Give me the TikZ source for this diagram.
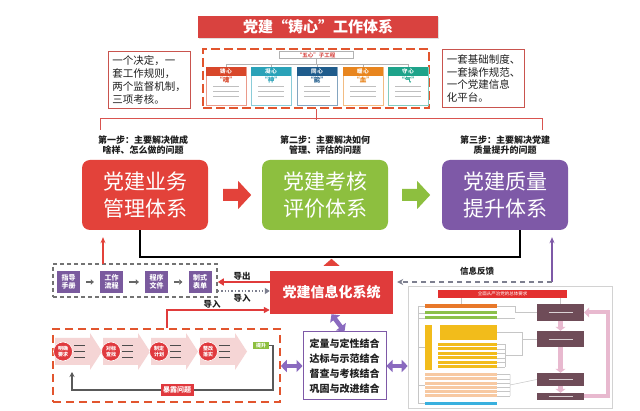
\documentclass[tikz,border=0pt]{standalone}
\usepackage{fontspec}
\setmainfont{Noto Sans CJK SC}
\usetikzlibrary{arrows.meta,calc,positioning,shadows}

\definecolor{titlered}{HTML}{D9423F}
\definecolor{bizred}{HTML}{E3423A}
\definecolor{evalgreen}{HTML}{8DBF3F}
\definecolor{qualpurple}{HTML}{7E59A7}
\definecolor{notered}{HTML}{C9544E}
\definecolor{rulered}{HTML}{D9534F}
\definecolor{dashorange}{HTML}{E2552E}
\definecolor{toolpurple}{HTML}{7A5A9E}
\definecolor{infored}{HTML}{E03B3B}
\definecolor{chevpink}{HTML}{F5D5D5}
\definecolor{circred}{HTML}{E0393E}
\definecolor{dblpurple}{HTML}{8A6ABF}
\definecolor{feedgray}{HTML}{7D7F8F}
\definecolor{stepbrown}{HTML}{6F4C58}
\definecolor{looppink}{HTML}{E8B9CF}
\definecolor{barred}{HTML}{E3302F}
\definecolor{barorange}{HTML}{E8782A}
\definecolor{bargreen}{HTML}{8CC04A}
\definecolor{baryellow}{HTML}{F2BC1B}
\definecolor{barpeach}{HTML}{F7C9A2}
\definecolor{barblue}{HTML}{39B0DE}
\definecolor{heartred}{HTML}{D8472A}
\definecolor{heartteal}{HTML}{2AA2B8}
\definecolor{heartnavy}{HTML}{1F5C8C}
\definecolor{heartorange}{HTML}{E8851E}
\definecolor{heartgreen}{HTML}{1EA38A}

% one card of the five sub-projects: x, name, colour, header, key word
\newcommand{\xincard}[5]{%
  \node[xincard, draw=#3!55] (#2) at (#1,86) {};
  \node[xinhead, fill=#3, anchor=north] at (#2.north) {#4};
  \node[font=\bfseries\fontsize{6.5}{7}\selectfont, text=#3] at ($(#2.north)+(0,13)$) {“#5”};
  \foreach \dy in {20,25,30}
    \draw[gray!50, line width=1.3pt] ($(#2.north)+(-13,\dy)$) -- ++(26,0);
}
% one pink stage arrow of the improvement loop: left x, name, circle text
\newcommand{\stagechev}[3]{%
  \fill[chevpink] (#1,338) -- ++(35,0) -- ++(0,-5) -- ++(12,18.5) -- ++(-12,18.5)
    -- ++(0,-5) -- ++(-35,0) -- cycle;
  \node[stagecirc] (#2) at (#1+8,351.5) {#3};
  \foreach \dy in {-6,0,6}
    \draw[black!70, line width=1.2pt] (#1+19,351.5+\dy) -- ++(11,0);
}

\begin{document}
\begin{tikzpicture}[x=1pt, y=-1pt, every node/.style={inner sep=0pt, text=black!88},
  mainbox/.style={rounded corners=8pt, text=white, align=center,
    font=\fontsize{21}{27}\selectfont, minimum width=126pt, minimum height=70pt},
  steplabel/.style={font=\bfseries\fontsize{9}{10.5}\selectfont, align=center},
  notebox/.style={draw=notered, line width=.9pt, align=left, minimum width=82pt,
    font=\fontsize{10.5}{12.7}\selectfont, inner ysep=5pt},
  xincard/.style={fill=white, line width=.6pt, minimum width=40pt, minimum height=38pt},
  xinhead/.style={text=white, font=\bfseries\fontsize{5.5}{6}\selectfont,
    minimum width=40pt, minimum height=9pt},
  toolbox/.style={fill=toolpurple, text=white, align=center,
    font=\bfseries\fontsize{7}{8.5}\selectfont, minimum width=23pt, minimum height=22pt},
  toolarrow/.style={-{Triangle[length=3pt,width=5.5pt]}, line width=2.2pt, black!60,
    shorten <=6pt, shorten >=6pt},
  stagecirc/.style={circle, fill=circred, draw=white, line width=.6pt, text=white,
    align=center, font=\bfseries\fontsize{5}{5.8}\selectfont, minimum size=19pt},
  dblarrow/.style={{Triangle[length=6pt,width=12pt]}-{Triangle[length=6pt,width=12pt]},
    line width=4.5pt, dblpurple},
  tag/.style={font=\bfseries\fontsize{8.5}{9}\selectfont}]

  \useasboundingbox (0,0) rectangle (640,411);
  \fill[white] (0,0) rectangle (640,411);

  % title and the five sub-projects
  \node[fill=titlered, text=white, font=\bfseries\fontsize{15}{16}\selectfont,
        minimum width=240pt, minimum height=22pt,
        drop shadow={opacity=.25, shadow xshift=1pt, shadow yshift=-1.5pt}] (title) at (318,27) {党建“铸心”工作体系};
  \node[draw=dashorange, dash pattern=on 9pt off 4pt, line width=1.8pt,
        minimum width=226pt, minimum height=59pt] (fivebox) at (316,78.5) {};
  \node[draw=gray!60, line width=.5pt, fill=white, text=rulered,
        font=\bfseries\fontsize{5.5}{6}\selectfont, minimum width=74pt, minimum height=7pt] (xinlabel) at (316,55) {“五心”子工程};
  \xincard{226}{card1}{heartred}{铸\,心}{魂}
  \xincard{271}{card2}{heartteal}{凝\,心}{神}
  \xincard{317}{card3}{heartnavy}{同\,心}{能}
  \xincard{363}{card4}{heartorange}{暖\,心}{血}
  \xincard{408}{card5}{heartgreen}{守\,心}{气}
  \draw[gray!60, line width=.6pt] (xinlabel.south) -- ++(0,5.5) coordinate (tj);
  \draw[gray!60, line width=.6pt] (card1.north |- tj) -- (card5.north |- tj);
  \foreach \c in {card1,card2,card3,card4,card5}
    \draw[gray!60, line width=.6pt] (\c.north |- tj) -- (\c.north);

  \node[notebox] (note1) at (149,80) {一个决定，一\\套工作规则，\\两个监督机制，\\三项考核。};
  \node[notebox] (note2) at (483.5,78.5) {一套基础制度、\\一套操作规范、\\一个党建信息\\化平台。};

  \coordinate (tickL) at (100,130);
  \coordinate (tickR) at (542,130);
  \draw[rulered, line width=1pt] (fivebox.south) -- ++(0,11);
  \draw[rulered, line width=1pt] (tickL) -- ++(0,-11) -| (tickR);

  % three steps
  \node[steplabel] (step1) at (143,145) {第一步：主要解决做成\\啥样、怎么做的问题};
  \node[steplabel] (step2) at (325,145) {第二步：主要解决如何\\管理、评估的问题};
  \node[steplabel] (step3) at (505,145) {第三步：主要解决党建\\质量提升的问题};

  \node[mainbox, fill=bizred] (biz) at (145,195) {党建业务\\管理体系};
  \node[mainbox, fill=evalgreen] (eval) at (325,195) {党建考核\\评价体系};
  \node[mainbox, fill=qualpurple] (qual) at (505,195) {党建质量\\提升体系};
  \fill[bizred] ($(biz.east)+(15,-6)$) -- ++(15,0) -- ++(0,-8) -- ++(13,14)
    -- ++(-13,14) -- ++(0,-8) -- ++(-15,0) -- cycle;
  \fill[evalgreen] ($(eval.east)+(14,-6)$) -- ++(15,0) -- ++(0,-8) -- ++(13,14)
    -- ++(-13,14) -- ++(0,-8) -- ++(-15,0) -- cycle;
  \draw[line width=1.4pt] ($(biz.south)+(-5,0)$) |- ($(qual.south)+(15,27)$) -- ($(qual.south)+(15,0)$);

  % information system and its links
  \node[fill=infored, text=white, font=\bfseries\fontsize{14}{15}\selectfont,
        minimum width=123pt, minimum height=43pt] (info) at (331.5,292.5) {党建信息化系统};
  \fill[bizred] ($(info.north)+(-8,-5)$) -- ++(16,0) -- ++(-8,-7) -- cycle;

  \node[draw=black!55, dash pattern=on 4pt off 3pt, line width=1.5pt,
        minimum width=164pt, minimum height=33pt] (flow) at (135,280.5) {};
  \node[toolbox] (t1) at (68.5,282) {指导\\手册};
  \node[toolbox] (t2) at (111.5,282) {工作\\流程};
  \node[toolbox] (t3) at (156.5,282) {程序\\文件};
  \node[toolbox] (t4) at (200,282) {制式\\表单};
  \foreach \a/\b in {t1/t2,t2/t3,t3/t4}
    \draw[toolarrow] (\a) -- (\b);

  \coordinate (upL) at (103,264);
  \draw[bizred, line width=1.2pt, -{Stealth[length=6pt,width=5pt]}] (upL) -- ($(biz.south -| upL)+(0,7)$);
  \draw[infored, line width=1.6pt, -{Triangle[length=6pt,width=7pt]}] (info.west |- 0,282) -- (flow.east |- 0,282);
  \draw[feedgray, line width=1.4pt, dotted, -{Triangle[length=5pt,width=6pt]}] (flow.east |- 0,291) -- (info.west |- 0,291);
  \node[tag] (export) at (242,276) {导出};
  \node[tag] (import1) at (242,298) {导入};

  \coordinate (fb) at (552,282);
  \draw[qualpurple, line width=1.2pt, -{Stealth[length=6pt,width=5pt]}] (fb) -- ($(qual.south -| fb)+(0,7)$);
  \draw[feedgray, line width=1.4pt, dash pattern=on 5pt off 4pt, -{Stealth[length=6pt,width=6pt]}, shorten >=4pt] (fb) -- (info.east |- fb);
  \node[tag] (feedback) at (477,271) {信息反馈};

  % improvement loop
  \node[draw=dashorange, dash pattern=on 8pt off 5pt, line width=1.6pt,
        minimum width=227pt, minimum height=73pt] (loop) at (166.5,365.5) {};
  \stagechev{55}{s1}{明确\\要求}
  \stagechev{103}{s2}{对标\\查找}
  \stagechev{151}{s3}{制定\\计划}
  \stagechev{200}{s4}{整改\\落实}
  \node[fill=evalgreen, text=white, font=\bfseries\fontsize{5}{5.5}\selectfont,
        minimum width=16pt, minimum height=7pt] (lift) at (261,345.5) {提升};
  \coordinate (retR) at (273,390);
  \coordinate (retL) at (72,372);
  \draw[black!65, line width=1.4pt, -{Stealth[length=5pt,width=5pt]}] (lift.east) -| (retR) -| (retL);
  \node[fill=circred, text=white, font=\bfseries\fontsize{7}{8}\selectfont,
        minimum width=33pt, minimum height=12pt] (expose) at (177,390) {暴露问题};
  \draw[infored, line width=1.4pt, -{Triangle[length=6pt,width=6pt]}] (loop.north -| 167,0) |- (info.west |- 0,310);
  \node[tag] (import2) at (212,304) {导入};

  \node[draw=qualpurple, line width=1pt, align=center, minimum width=83pt, minimum height=68pt,
        font=\bfseries\fontsize{10}{15}\selectfont] (combine) at (344.5,366) {定量与定性结合\\达标与示范结合\\督查与考核结合\\巩固与改进结合};

  % overall requirement chart
  \node[draw=gray!35, line width=.6pt, minimum width=204pt, minimum height=122pt] (panel) at (510,347) {};
  \node[fill=barred, text=white, font=\fontsize{4.5}{5}\selectfont,
        minimum width=129pt, minimum height=8pt] (goal) at (502.5,294) {全面从严治党的总体要求};
  \fill[barorange] (425,304) rectangle (497,308);
  \fill[bargreen] (425,311.5) rectangle (497,314.5);
  \fill[bargreen] (425,316.5) rectangle (497,319.5);
  \fill[baryellow] (425,325) rectangle (432,370);
  \fill[baryellow] (440,325) rectangle (497,340);
  \foreach \y in {343,347.5,352,356.5,361,365.5}
    \fill[baryellow] (438,\y) rectangle (497,\y+3);
  \foreach \y in {373,377.3,381.6,385.9,390.2,394.5}
    \fill[barpeach] (425,\y) rectangle (497,\y+3);
  \fill[barblue] (425,402) rectangle (497,405);

  \tikzset{stepnode/.style={fill=stepbrown, minimum width=47pt}}
  \node[stepnode, minimum height=17pt] (stepA) at (560.5,312.5) {};
  \node[stepnode, minimum height=16pt] (stepB) at (560.5,339) {};
  \node[stepnode, minimum height=13pt] (stepC) at (560.5,379.5) {};
  \node[stepnode, minimum height=7pt] (stepD) at (560.5,396.5) {};
  \foreach \n in {stepA,stepB,stepC,stepD}
    \draw[white!75!stepbrown, line width=.9pt] ($(\n.center)+(-12,0)$) -- ++(24,0);

  \draw[gray!45, line width=.5pt] (goal.south -| 461,0) -- (461,304);
  \draw[gray!45, line width=.5pt] (goal.south -| stepA) -- (stepA.north);
  \draw[gray!45, line width=.5pt] (418,306) -- (418,403);
  \foreach \y in {306,313,318,347,385,403}
    \draw[gray!45, line width=.5pt] (418,\y) -- (425,\y);
  \draw[gray!45, line width=.5pt] (497,306) -- (515,306) |- (stepA.west);
  \draw[gray!45, line width=.5pt] (497,318) -- (515,318);
  \foreach \y in {344.5,349,353.5,358,362.5,367}
    \draw[gray!45, line width=.5pt] (497,\y) -- (505,\y);
  \draw[gray!45, line width=.5pt] (505,344.5) -- (505,367);
  \draw[gray!45, line width=.5pt] (505,355) -- (522,355) |- (stepB.west);
  \draw[gray!45, line width=.5pt] (497,332) -| (522,339);
  \foreach \y in {374.5,378.8,383.1,387.4,391.7,396}
    \draw[gray!45, line width=.5pt] (497,\y) -- (510,\y);
  \draw[gray!45, line width=.5pt] (510,374.5) -- (510,396) (510,385) -- (stepC.west);

  \foreach \a/\b in {stepA/stepB,stepB/stepC,stepC/stepD}
    \draw[looppink, line width=5pt, -{Triangle[length=4pt,width=10pt]}] (\a.south) -- (\b.north);
  \draw[looppink, line width=4pt, -{Triangle[length=5pt,width=10pt]}] (stepD.east) -- ++(24,0) |- (stepA.east);

  \draw[dblarrow] (info.south) -- (combine.north);
  \draw[dblarrow] (loop.east |- combine.west) -- (combine.west);
  \draw[dblarrow] (combine.east) -- (panel.west |- combine.east);
\end{tikzpicture}
\end{document}
